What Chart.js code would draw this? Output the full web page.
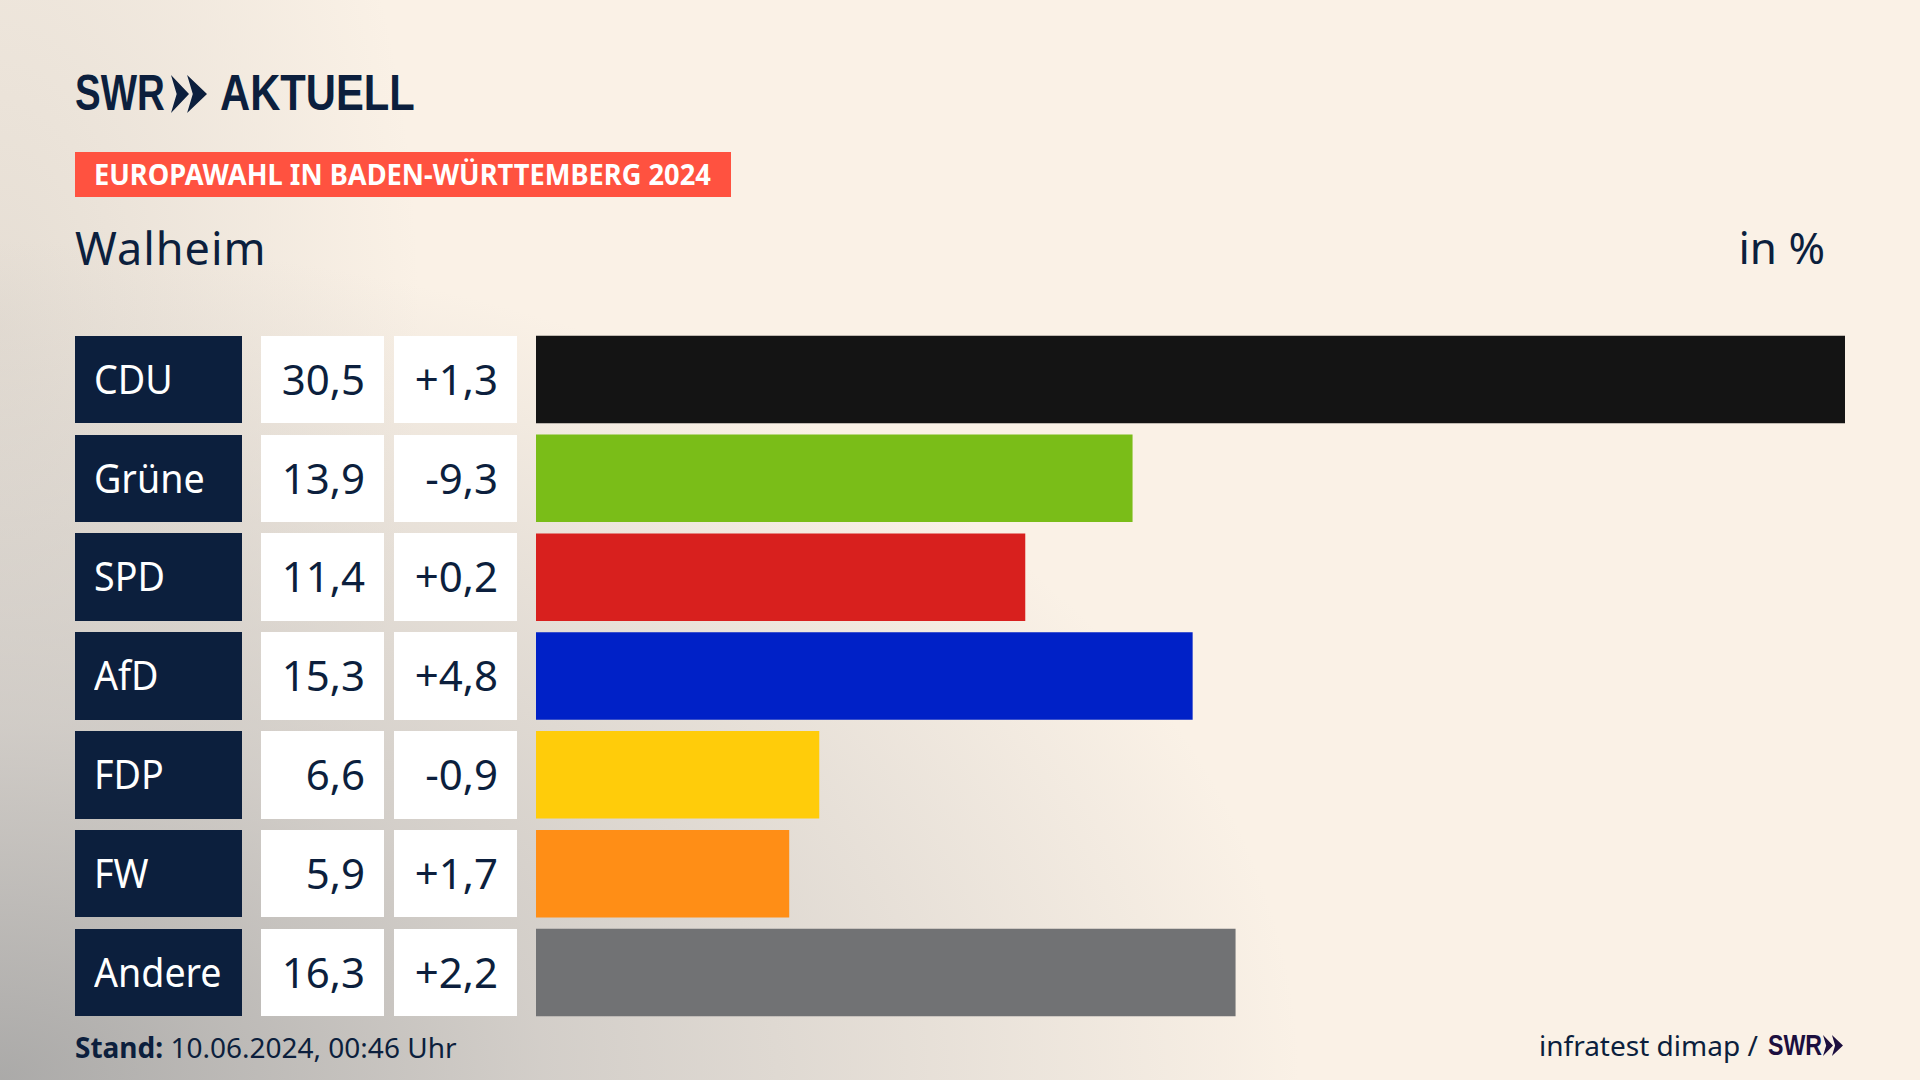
<!DOCTYPE html>
<html lang="de">
<head>
<meta charset="utf-8">
<title>Europawahl Walheim</title>
<script src="https://cdn.jsdelivr.net/npm/chart.js@4"></script>
<style>
  html, body { margin: 0; padding: 0; }
  body {
    width: 1920px; height: 1080px; overflow: hidden; position: relative;
    font-family: "Noto Sans", sans-serif; color: #0c1f3d;
    background:
      radial-gradient(ellipse 1300px 840px at 0 100%, rgba(160,160,160,.88), rgba(196,193,190,.72) 42%, rgba(250,241,230,0) 100%),
      radial-gradient(ellipse 420px 800px at 0 30%, rgba(190,185,178,.35), rgba(250,241,230,0) 100%),
      #faf1e6;
  }
  .abs { position: absolute; white-space: nowrap; }
  #logo { left: 75px; top: 63px; font: bold 50px "Liberation Sans", sans-serif; line-height: 60px; }
  #logo span { position: absolute; top: 0; transform-origin: 0 50%; }
  #tag { left: 75px; top: 152px; width: 656px; height: 45px; background: #ff5240; }
  #tag div { position: absolute; left: 19px; top: 0; line-height: 45px; color: #fff; font-weight: 700; font-size: 28px; transform: scaleX(.973); transform-origin: 0 50%; }
  #place { left: 75px; top: 218px; font-size: 45px; letter-spacing: 1px; line-height: 60px; }
  #unit { right: 95px; top: 217px; font-size: 44px; line-height: 60px; }
  #chartBox { position: absolute; left: 536px; top: 330px; width: 1309px; height: 692px; }
  .cell { position: absolute; font-size: 42px; box-sizing: border-box; padding: 0 19px; background: #fff; text-align: right; }
  .cell.party { background: #0c1f3d; color: #fff; text-align: left; font-size: 40px; }
  .cell.party span { display: inline-block; transform: scaleX(.94); transform-origin: 0 50%; }
  #stand { left: 75px; top: 1028px; font-size: 28px; line-height: 38px; }
  #source { left: 1539px; top: 1026px; font-size: 28px; line-height: 38px; }
  #srcLogo { left: 1768px; top: 1026px; font: bold 29px "Liberation Sans", sans-serif; line-height: 38px; color: #1c0f3f; }
  #srcLogo span { display: inline-block; transform: scaleX(.8); transform-origin: 0 50%; }
  #srcLogo svg { position: absolute; left: 54px; top: 9px; }
</style>
</head>
<body>
<div class="abs" id="logo">
  <span style="left:0;transform:scaleX(.77)">SWR</span>
  <svg class="abs" style="left:96px;top:11px" width="36" height="40" viewBox="0 0 38 40"><path fill="#0c1f3d" d="M0 0 L19 20 L0 40 L6 20 Z M17 0 L38 20 L17 40 L23 20 Z"/></svg>
  <span style="left:145px;transform:scaleX(.835)">AKTUELL</span>
</div>
<div class="abs" id="tag"><div>EUROPAWAHL IN BADEN-WÜRTTEMBERG 2024</div></div>
<div class="abs" id="place">Walheim</div>
<div class="abs" id="unit">in %</div>
<div id="chartBox"><canvas id="myChart"></canvas></div>
<div class="abs" id="stand"><b>Stand:</b> 10.06.2024, 00:46 Uhr</div>
<div class="abs" id="source">infratest dimap /</div>
<div class="abs" id="srcLogo"><span>SWR</span><svg width="22" height="21" viewBox="0 0 38 40"><path fill="#1c0f3f" d="M0 0 L19 20 L0 40 L6 20 Z M17 0 L38 20 L17 40 L23 20 Z"/></svg></div>

<script>
var parties = ['CDU', 'Grüne', 'SPD', 'AfD', 'FDP', 'FW', 'Andere'];
var shares = [30.5, 13.9, 11.4, 15.3, 6.6, 5.9, 16.3];
var changes = ['+1,3', '-9,3', '+0,2', '+4,8', '-0,9', '+1,7', '+2,2'];
var partyColors = ['#141414', '#7abd18', '#d8201e', '#0021c7', '#ffcc0a', '#ff8e16', '#717274'];

function comma(v) {
    return v.toFixed(1).replace('.', ',');
}

var ctx = document.getElementById('myChart').getContext('2d');
var myChart = new Chart(ctx, {
    type: 'bar',
    data: {
        labels: parties,
        datasets: [{
            data: shares,
            backgroundColor: partyColors,
            borderWidth: 0,
            categoryPercentage: 1,
            barPercentage: 0.885
        }]
    },
    options: {
        indexAxis: 'y',
        responsive: true,
        maintainAspectRatio: false,
        animation: false,
        layout: { padding: 0 },
        plugins: { legend: { display: false }, tooltip: { enabled: false } },
        scales: {
            x: { display: false, min: 0, max: 30.5 },
            y: { display: false }
        }
    }
});

// Zellen links neben den Balken, gleiche Zeilen wie die y-Achse
var boxTop = document.getElementById('chartBox').offsetTop;
var cols = [
    { x: 75, w: 167, cls: 'party', text: function (i) { return parties[i]; } },
    { x: 261, w: 123, cls: '', text: function (i) { return comma(shares[i]); } },
    { x: 394, w: 123, cls: '', text: function (i) { return changes[i]; } }
];
parties.forEach(function (p, i) {
    var yc = boxTop + myChart.scales.y.getPixelForValue(i);
    cols.forEach(function (c) {
        var el = document.createElement('div');
        var inner = document.createElement('span');
        el.className = 'cell ' + c.cls;
        inner.textContent = c.text(i);
        inner.style.position = 'relative';
        inner.style.top = '-1px';
        el.appendChild(inner);
        el.style.left = c.x + 'px';
        el.style.width = c.w + 'px';
        el.style.top = (yc - 43.75) + 'px';
        el.style.height = '87.5px';
        el.style.lineHeight = '87.5px';
        document.body.appendChild(el);
    });
});
</script>
</body>
</html>
